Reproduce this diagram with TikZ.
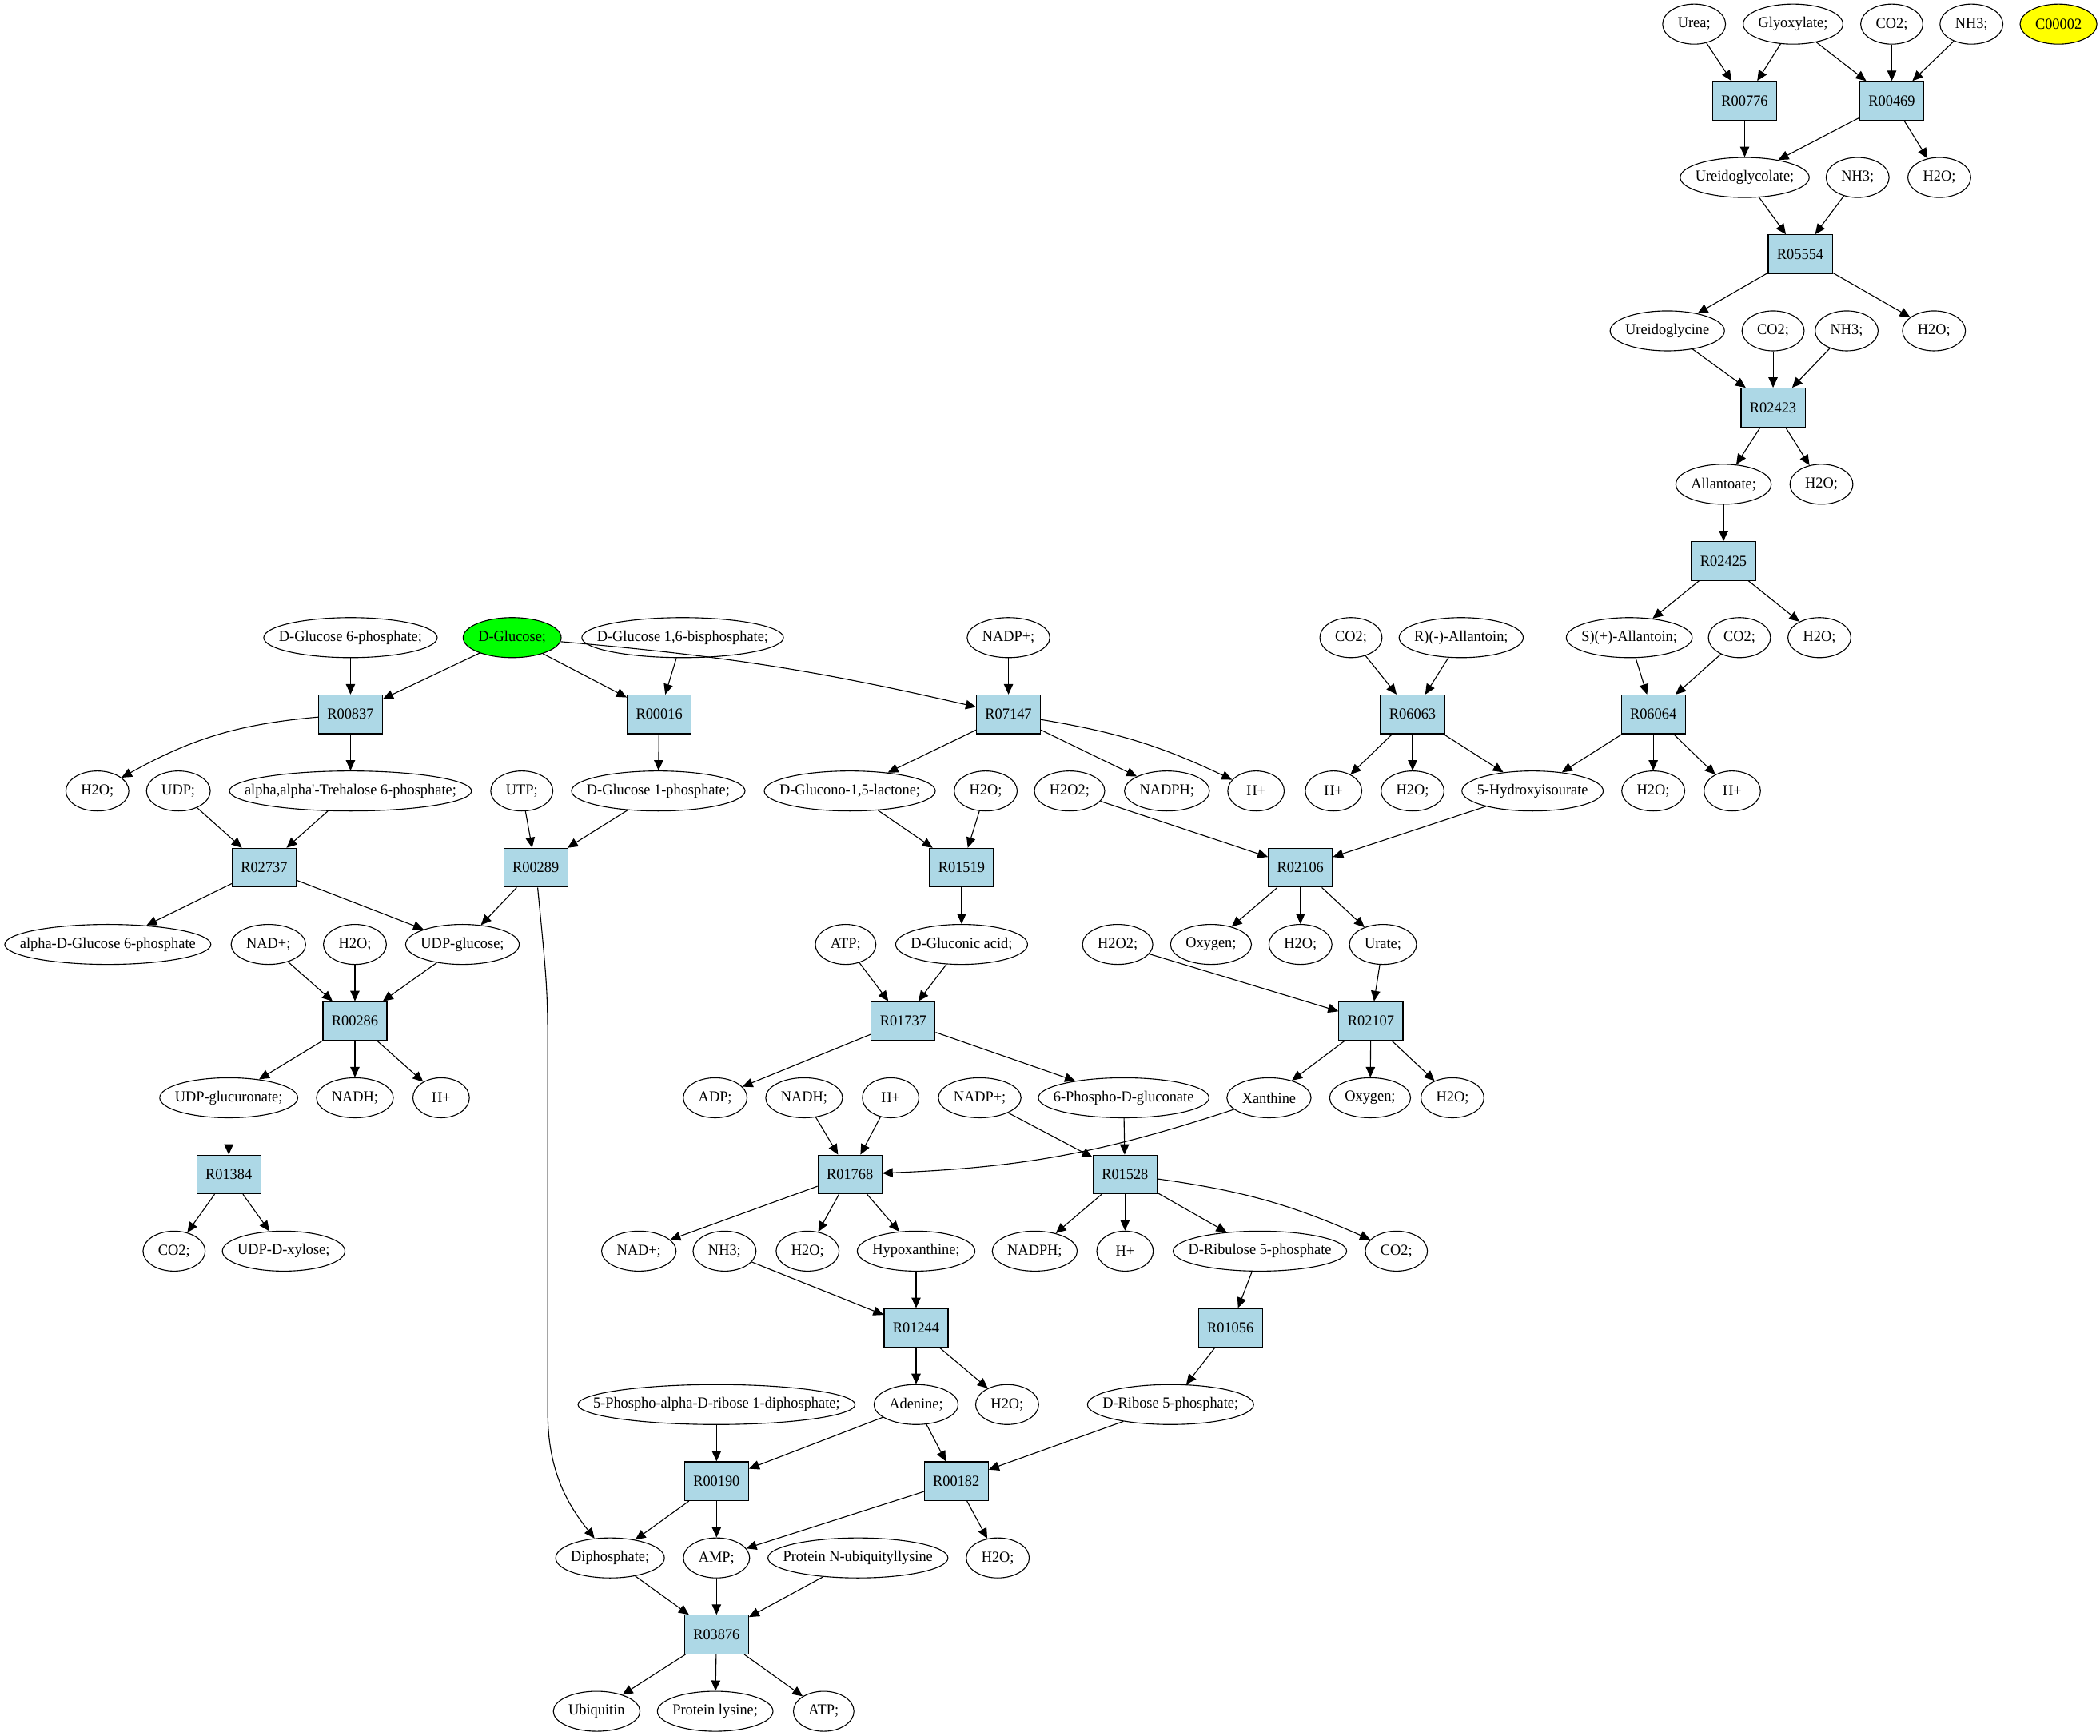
\documentclass[tikz,border=0pt]{standalone}
\usepackage{fontspec}
\newfontfamily\nf{Liberation Serif}[FakeStretch=0.96]
\usetikzlibrary{arrows.meta,shapes.geometric,calc}
\definecolor{lb}{HTML}{ADD8E6}
\definecolor{gr}{HTML}{00FF00}
\definecolor{ye}{HTML}{FFFF00}
\newcommand\nfont{\nf\fontsize{6.5}{7}\selectfont}
\tikzset{
  el/.style={ellipse,draw,line width=0.38pt,inner sep=0pt,minimum height=17pt,font=\nfont},
  tx/.style={inner sep=0pt,draw=none,font=\nfont},
  rx/.style={rectangle,draw,line width=0.38pt,fill=lb,inner sep=0pt,minimum width=27.2pt,minimum height=16.5pt,font=\nfont},
  arr/.style={line width=0.38pt,-{Triangle[length=4.4pt,width=3.9pt]}}
}
\newcommand\E[5][]{%
  \node[tx] (#2t) at (#3,{18+57.27*#4}) {\phantom{#5}};
  \path let \p1=($(#2t.east)-(#2t.west)$), \n1={max(\x1+12.5pt,24pt)} in
    node[el,minimum width=\n1,#1] (#2) at (#3,{18+57.27*#4}) {\makebox[0pt]{#5}};}
\newcommand\B[3]{\node[rx] (#1) at (#2,{18+57.27*#3}) {#1};}
\begin{document}
\begin{tikzpicture}[x=0.02cm,y=-0.02cm]
\useasboundingbox (0,0) rectangle (1568,1296);
% rank 0
\E{urea}{1264.9}{0}{Urea;}
\E{glyox}{1338.8}{0}{Glyoxylate;}
\E{co2a}{1412.5}{0}{CO2;}
\E{nh3a}{1472}{0}{NH3;}
\E[fill=ye]{c00002}{1537}{0}{C00002}
% rank 1
\B{R00776}{1302.7}{1}
\B{R00469}{1412.5}{1}
% rank 2
\E{ureidoglycolate}{1302.7}{2}{Ureidoglycolate;}
\E{nh3b}{1387}{2}{NH3;}
\E{h2oa}{1448}{2}{H2O;}
% rank 3
\B{R05554}{1344.2}{3}
% rank 4
\E{ureidoglycine}{1244.9}{4}{Ureidoglycine}
\E{co2b}{1323.9}{4}{CO2;}
\E{nh3c}{1378.8}{4}{NH3;}
\E{h2ob}{1444}{4}{H2O;}
% rank 5
\B{R02423}{1323.9}{5}
% rank 6
\E{allantoate}{1286.9}{6}{Allantoate;}
\E{h2oc}{1360}{6}{H2O;}
% rank 7
\B{R02425}{1286.9}{7}
% rank 8
\E{glc6p}{261.7}{8}{D-Glucose 6-phosphate;}
\E[fill=gr]{glc}{382.4}{8}{D-Glucose;}
\E{glc16}{509.7}{8}{D-Glucose 1,6-bisphosphate;}
\E{nadpa}{753}{8}{NADP+;}
\E{co2c}{1008.7}{8}{CO2;}
\E{rallan}{1091}{8}{R)(-)-Allantoin;}
\E{sallan}{1216.5}{8}{S)(+)-Allantoin;}
\E{co2d}{1298.8}{8}{CO2;}
\E{h2od}{1358.5}{8}{H2O;}
% rank 9
\B{R00837}{261.7}{9}
\B{R00016}{492.2}{9}
\B{R07147}{753}{9}
\B{R06063}{1054.7}{9}
\B{R06064}{1234.4}{9}
% rank 10
\E{h2oe}{72.7}{10}{H2O;}
\E{udp}{133.2}{10}{UDP;}
\E{treh}{261.7}{10}{alpha,alpha'-Trehalose 6-phosphate;}
\E{utp}{389.6}{10}{UTP;}
\E{glc1p}{491.5}{10}{D-Glucose 1-phosphate;}
\E{glucono}{634.5}{10}{D-Glucono-1,5-lactone;}
\E{h2of}{736}{10}{H2O;}
\E{h2o2a}{798.6}{10}{H2O2;}
\E{nadpha}{871.3}{10}{NADPH;}
\E{hpa}{937.8}{10}{H+}
\E{hpb}{995.7}{10}{H+}
\E{h2og}{1054.7}{10}{H2O;}
\E{hydroxy}{1144.3}{10}{5-Hydroxyisourate}
\E{h2oh}{1234.4}{10}{H2O;}
\E{hpc}{1293.4}{10}{H+}
% rank 11
\B{R02737}{197.2}{11}
\B{R00289}{400}{11}
\B{R01519}{718}{11}
\B{R02106}{971}{11}
% rank 12
\E{aglc6p}{80.5}{12}{alpha-D-Glucose 6-phosphate}
\E{nada}{200.4}{12}{NAD+;}
\E{h2oi}{265}{12}{H2O;}
\E{udpglc}{345.3}{12}{UDP-glucose;}
\E{atpa}{631.4}{12}{ATP;}
\E{gluconic}{718}{12}{D-Gluconic acid;}
\E{h2o2b}{834.5}{12}{H2O2;}
\E{oxya}{904.2}{12}{Oxygen;}
\E{h2oj}{971}{12}{H2O;}
\E{urate}{1032.6}{12}{Urate;}
% rank 13
\B{R00286}{265}{13}
\B{R01737}{674.4}{13}
\B{R02107}{1023.6}{13}
% rank 14
\E{udpglcu}{170.8}{14}{UDP-glucuronate;}
\E{nadha}{265}{14}{NADH;}
\E{hpd}{329.4}{14}{H+}
\E{adp}{534}{14}{ADP;}
\E{nadhb}{600.4}{14}{NADH;}
\E{hpe}{665}{14}{H+}
\E{nadpb}{731.5}{14}{NADP+;}
\E{pgluc}{839}{14}{6-Phospho-D-gluconate}
\E{xanth}{947.5}{14}{Xanthine}
\E{oxyb}{1023}{14}{Oxygen;}
\E{h2ok}{1084.5}{14}{H2O;}
% rank 15
\B{R01384}{170.8}{15}
\B{R01768}{634.6}{15}
\B{R01528}{840}{15}
% rank 16
\E{co2e}{130}{16}{CO2;}
\E{udpxyl}{211.8}{16}{UDP-D-xylose;}
\E{nadb}{477}{16}{NAD+;}
\E{nh3d}{541}{16}{NH3;}
\E{h2ol}{603}{16}{H2O;}
\E{hypox}{684}{16}{Hypoxanthine;}
\E{nadphb}{772.6}{16}{NADPH;}
\E{hpf}{840}{16}{H+}
\E{ribu}{940.7}{16}{D-Ribulose 5-phosphate}
\E{co2f}{1042.6}{16}{CO2;}
% rank 17
\B{R01244}{684}{17}
\B{R01056}{918.7}{17}
% rank 18
\E{prpp}{535}{18}{5-Phospho-alpha-D-ribose 1-diphosphate;}
\E{adenine}{684}{18}{Adenine;}
\E{h2om}{752}{18}{H2O;}
\E{rib5p}{874}{18}{D-Ribose 5-phosphate;}
% rank 19
\B{R00190}{535}{19}
\B{R00182}{714}{19}
% rank 20
\E{diph}{455.5}{20}{Diphosphate;}
\E{amp}{535}{20}{AMP;}
\E{pnub}{640.6}{20}{Protein N-ubiquityllysine}
\E{h2on}{745}{20}{H2O;}
% rank 21
\B{R03876}{535}{21}
% rank 22
\E{ubiq}{445.5}{22}{Ubiquitin}
\E{plys}{534}{22}{Protein lysine;}
\E{atpb}{615}{22}{ATP;}
% straight edges
\foreach \a/\b in {urea/R00776,glyox/R00776,glyox/R00469,co2a/R00469,nh3a/R00469,
  R00776/ureidoglycolate,R00469/ureidoglycolate,R00469/h2oa,
  ureidoglycolate/R05554,nh3b/R05554,R05554/ureidoglycine,R05554/h2ob,
  ureidoglycine/R02423,co2b/R02423,nh3c/R02423,R02423/allantoate,R02423/h2oc,
  allantoate/R02425,R02425/sallan,R02425/h2od,sallan/R06064,co2d/R06064,
  R06064/hydroxy,R06064/h2oh,R06064/hpc,co2c/R06063,rallan/R06063,
  R06063/hpb,R06063/h2og,R06063/hydroxy,hydroxy/R02106,h2o2a/R02106,
  R02106/oxya,R02106/h2oj,R02106/urate,urate/R02107,h2o2b/R02107,
  R02107/xanth,R02107/oxyb,R02107/h2ok,
  nadpa/R07147,R07147/glucono,R07147/nadpha,glucono/R01519,h2of/R01519,
  R01519/gluconic,atpa/R01737,gluconic/R01737,R01737/adp,R01737/pgluc,
  nadhb/R01768,hpe/R01768,nadpb/R01528,pgluc/R01528,
  R01768/nadb,R01768/h2ol,R01768/hypox,R01528/nadphb,R01528/hpf,R01528/ribu,
  nh3d/R01244,hypox/R01244,ribu/R01056,R01244/adenine,R01244/h2om,R01056/rib5p,
  prpp/R00190,adenine/R00190,adenine/R00182,rib5p/R00182,
  R00190/diph,R00190/amp,R00182/amp,R00182/h2on,
  diph/R03876,amp/R03876,pnub/R03876,R03876/ubiq,R03876/plys,R03876/atpb,
  glc6p/R00837,glc/R00837,glc/R00016,glc16/R00016,R00837/treh,R00016/glc1p,
  udp/R02737,treh/R02737,utp/R00289,glc1p/R00289,R02737/aglc6p,R02737/udpglc,
  R00289/udpglc,nada/R00286,h2oi/R00286,udpglc/R00286,
  R00286/udpglcu,R00286/nadha,R00286/hpd,udpglcu/R01384,R01384/co2e,R01384/udpxyl}
  \draw[arr] (\a) -- (\b);
% curved edges
\draw[arr] (glc) to[bend left=4] (R07147);
\draw[arr] (R00837) to[bend right=12] (h2oe);
\draw[arr] (xanth) to[bend left=8] (R01768);
\draw[arr] (R07147) to[bend left=8] (hpa);
\draw[arr] (R01528) to[bend left=8] (co2f);
\draw[arr] (R00289) .. controls (409,740) .. (409,800) -- (409,1055) .. controls (409,1100) and (425,1125) .. (diph);
\end{tikzpicture}
\end{document}
